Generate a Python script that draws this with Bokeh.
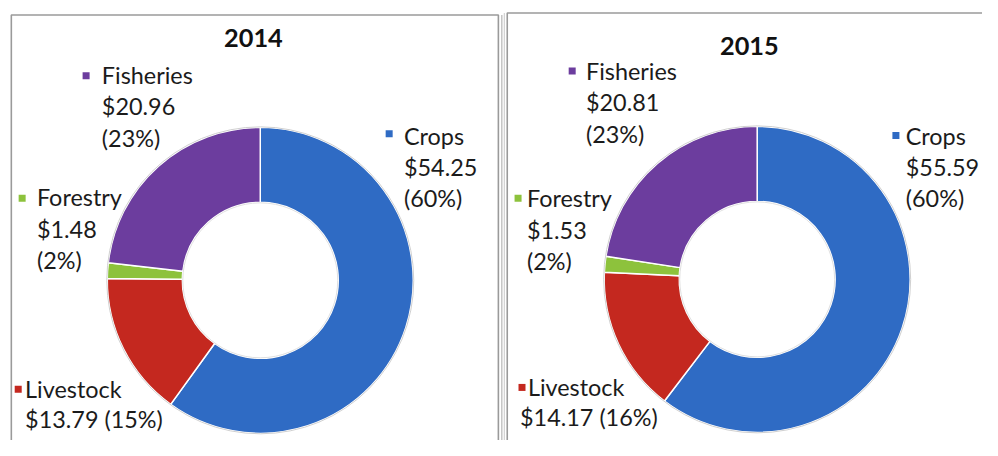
import math
from bokeh.plotting import figure
from bokeh.models import Range1d, ColumnDataSource
from bokeh.core.properties import value
from bokeh.embed import file_html
from bokeh.resources import INLINE

# ---------------- data ----------------
categories = ["Crops", "Livestock", "Forestry", "Fisheries"]
years = ["2014", "2015"]
values_2014 = [54.25, 13.79, 1.48, 20.96]
pct_2014 = [60, 15, 2, 23]
values_2015 = [55.59, 14.17, 1.53, 20.81]
pct_2015 = [60, 16, 2, 23]
colors = ["#2F6BC4", "#C4281F", "#8DC23C", "#6C3D9E"]

# ---------------- layout (reference pixel coords, scaled to fit) ----------------
W, H = 998, 456
PW, PH = 982, 440
S = (PW / W + PH / H) / 2.0   # screen-size scale


def Y(v):
    return H - v


FONT = "Lato"
TXT = "#1b1b1b"

p = figure(width=PW, height=PH, x_range=Range1d(0, W), y_range=Range1d(0, H),
           output_backend="svg", toolbar_location=None, min_border=0)
p.axis.visible = False
p.grid.visible = False
p.outline_line_color = None
p.background_fill_color = "white"
p.border_fill_color = "white"

# panel borders
p.line([11, 11, 506, 506], [Y(480), Y(15), Y(15), Y(480)], line_color="#9a9a9a", line_width=1.6)
p.line([509.5, 509.5], [Y(15), Y(480)], line_color="#b5b5b5", line_width=1.2)
p.line([515, 515, 1010], [Y(480), Y(13), Y(13)], line_color="#9a9a9a", line_width=1.6)
p.line([512, 512], [Y(13), Y(480)], line_color="#c8c8c8", line_width=1.0)

panels = [
    dict(year=years[0], vals=values_2014, pct=pct_2014, cx=264, cy=290,
         title=(257, 39),
         sq=[(395, 138), (18, 403), (22, 205), (87, 78)],
         tx=[(410, 140), (25, 403), (37, 204), (103, 77)],
         second_x=[None, 25, None, None]),
    dict(year=years[1], vals=values_2015, pct=pct_2015, cx=769, cy=289,
         title=(761, 47),
         sq=[(910, 140), (530, 401), (526, 205), (581, 73)],
         tx=[(920, 140), (536, 401), (535, 205), (595, 73)],
         second_x=[None, 528, None, None]),
]
LINE = 32.5
R_OUT, R_IN = 157 * S, 80 * S
FS = "%.1fpx" % (24 * S)
FS_T = "%.1fpx" % (26 * S)

for pn in panels:
    total = sum(pn["vals"])
    starts, ends = [], []
    acc = 0.0
    for v in pn["vals"]:
        a0 = math.pi / 2 - 2 * math.pi * acc / total
        acc += v
        a1 = math.pi / 2 - 2 * math.pi * acc / total
        starts.append(a0)
        ends.append(a1)
    src = ColumnDataSource(dict(x=[pn["cx"]] * 4, y=[Y(pn["cy"])] * 4,
                                start=starts, end=ends, color=colors, cat=categories))
    p.annular_wedge(x="x", y="y", inner_radius=R_IN, outer_radius=R_OUT,
                    inner_radius_units="screen", outer_radius_units="screen",
                    start_angle="start", end_angle="end", direction="clock",
                    fill_color="color", line_color="white", line_width=1.5, source=src)
    # faint rims
    p.circle(x=[pn["cx"]], y=[Y(pn["cy"])], radius=R_OUT + 0.5, radius_units="screen",
             fill_color=None, line_color="#d0d0d0", line_width=1)
    p.circle(x=[pn["cx"]], y=[Y(pn["cy"])], radius=R_IN - 0.5, radius_units="screen",
             fill_color=None, line_color="#e0e0e0", line_width=1)

    # title
    p.text(x=[pn["title"][0]], y=[Y(pn["title"][1])], text=[pn["year"]],
           text_font=value(FONT), text_font_style="bold", text_font_size=FS_T,
           text_align="center", text_baseline="middle", text_color="#111111")

    # labels
    for i, cat in enumerate(categories):
        money = "$%.2f" % pn["vals"][i]
        pc = "(%d%%)" % pn["pct"][i]
        sx, sy = pn["sq"][i]
        p.scatter(x=[sx], y=[Y(sy)], marker="square", size=7,
                  fill_color=colors[i], line_color=None)
        tx, ty = pn["tx"][i]
        if pn["second_x"][i] is not None:
            lines = [(tx, ty, cat), (pn["second_x"][i], ty + 31, money + " " + pc)]
        else:
            lines = [(tx, ty, cat), (tx, ty + LINE, money), (tx, ty + 2 * LINE, pc)]
        p.text(x=[l[0] for l in lines], y=[Y(l[1]) for l in lines],
               text=[l[2] for l in lines], text_font=value(FONT),
               text_font_size=FS, text_align="left", text_baseline="middle",
               text_color=TXT)

open("out.html", "w").write(file_html(p, INLINE))
